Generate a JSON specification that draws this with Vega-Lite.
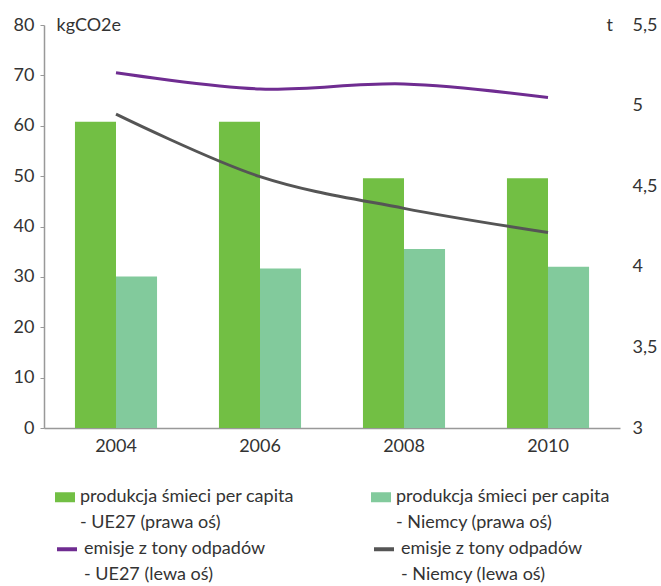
{
  "$schema": "https://vega.github.io/schema/vega-lite/v6.json",
  "width": 576,
  "height": 403,
  "autosize": "none",
  "padding": {"left": 44, "top": 25, "right": 41, "bottom": 158},
  "background": "white",
  "config": {
    "view": {"stroke": null},
    "font": "Lato",
    "axis": {"labelFont": "Lato", "titleFont": "Lato", "labelColor": "#333333", "titleColor": "#333333", "labelFontSize": 18, "titleFontSize": 18, "titleFontWeight": "normal", "grid": false},
    "legend": {"labelFont": "Lato", "labelFontSize": 18, "labelColor": "#333333"},
    "style": {"guide-label": {"lineHeight": 25.5}}
  },
  "data": {
    "values": [
      {"year": "2004", "kind": "bar", "s": "UE27", "label": "produkcja śmieci per capita|- UE27 (prawa oś)", "value": 4.90},
      {"year": "2006", "kind": "bar", "s": "UE27", "label": "produkcja śmieci per capita|- UE27 (prawa oś)", "value": 4.90},
      {"year": "2008", "kind": "bar", "s": "UE27", "label": "produkcja śmieci per capita|- UE27 (prawa oś)", "value": 4.55},
      {"year": "2010", "kind": "bar", "s": "UE27", "label": "produkcja śmieci per capita|- UE27 (prawa oś)", "value": 4.55},
      {"year": "2004", "kind": "bar", "s": "Niemcy", "label": "produkcja śmieci per capita|- Niemcy (prawa oś)", "value": 3.94},
      {"year": "2006", "kind": "bar", "s": "Niemcy", "label": "produkcja śmieci per capita|- Niemcy (prawa oś)", "value": 3.99},
      {"year": "2008", "kind": "bar", "s": "Niemcy", "label": "produkcja śmieci per capita|- Niemcy (prawa oś)", "value": 4.11},
      {"year": "2010", "kind": "bar", "s": "Niemcy", "label": "produkcja śmieci per capita|- Niemcy (prawa oś)", "value": 4.00},
      {"year": "2004", "kind": "line", "s": "UE27", "label": "emisje z tony odpadów|- UE27 (lewa oś)", "value": 70.5},
      {"year": "2006", "kind": "line", "s": "UE27", "label": "emisje z tony odpadów|- UE27 (lewa oś)", "value": 67.3},
      {"year": "2008", "kind": "line", "s": "UE27", "label": "emisje z tony odpadów|- UE27 (lewa oś)", "value": 68.3},
      {"year": "2010", "kind": "line", "s": "UE27", "label": "emisje z tony odpadów|- UE27 (lewa oś)", "value": 65.6},
      {"year": "2004", "kind": "line", "s": "Niemcy", "label": "emisje z tony odpadów|- Niemcy (lewa oś)", "value": 62.3},
      {"year": "2006", "kind": "line", "s": "Niemcy", "label": "emisje z tony odpadów|- Niemcy (lewa oś)", "value": 49.9},
      {"year": "2008", "kind": "line", "s": "Niemcy", "label": "emisje z tony odpadów|- Niemcy (lewa oś)", "value": 43.6},
      {"year": "2010", "kind": "line", "s": "Niemcy", "label": "emisje z tony odpadów|- Niemcy (lewa oś)", "value": 38.8}
    ]
  },
  "layer": [
    {
      "transform": [{"filter": "datum.kind === 'bar'"}],
      "mark": {"type": "bar"},
      "encoding": {
        "x": {
          "field": "year", "type": "nominal",
          "scale": {"paddingInner": 0.43, "paddingOuter": 0.215},
          "axis": {"title": null, "labelAngle": 0, "ticks": false, "labelPadding": 9, "domainColor": "#999999", "domainWidth": 1.5}
        },
        "xOffset": {"field": "s", "type": "nominal", "sort": ["UE27", "Niemcy"], "scale": {"paddingInner": 0, "paddingOuter": 0}},
        "y": {
          "field": "value", "type": "quantitative",
          "scale": {"domain": [3, 5.5], "zero": false, "nice": false},
          "axis": {"orient": "right", "values": [3, 3.5, 4, 4.5, 5, 5.5], "labelExpr": "replace(format(datum.value, '.1~f'), '.', ',')", "domain": false, "ticks": false, "labelPadding": 12, "title": "t", "titleAngle": 0, "titleAlign": "left", "titleBaseline": "middle", "titleX": -14, "titleY": 0}
        },
        "y2": {"datum": 3},
        "fill": {
          "field": "label", "type": "nominal",
          "scale": {"domain": ["produkcja śmieci per capita|- UE27 (prawa oś)", "produkcja śmieci per capita|- Niemcy (prawa oś)"], "range": ["#72BF44", "#82CA9C"]},
          "legend": {"orient": "none", "legendX": 11, "legendY": 462, "columns": 2, "columnPadding": 77, "title": null, "labelExpr": "split(datum.label, '|')", "labelBaseline": "middle", "labelOffset": 5, "labelLimit": 400, "symbolType": "M-1,-0.5H1V0.5H-1Z", "symbolSize": 400, "symbolStrokeWidth": 0}
        }
      }
    },
    {
      "transform": [{"filter": "datum.kind === 'line'"}],
      "mark": {"type": "line", "interpolate": "cardinal", "strokeWidth": 3},
      "encoding": {
        "x": {"field": "year", "type": "nominal"},
        "y": {
          "field": "value", "type": "quantitative",
          "scale": {"domain": [0, 80], "nice": false},
          "axis": {"orient": "left", "values": [0, 10, 20, 30, 40, 50, 60, 70, 80], "domainColor": "#999999", "domainWidth": 1.5, "tickColor": "#999999", "tickSize": 4, "labelPadding": 6, "title": "kgCO2e", "titleAngle": 0, "titleAlign": "left", "titleBaseline": "middle", "titleX": 12, "titleY": 0}
        },
        "stroke": {
          "field": "label", "type": "nominal",
          "scale": {"domain": ["emisje z tony odpadów|- UE27 (lewa oś)", "emisje z tony odpadów|- Niemcy (lewa oś)"], "range": ["#6F2C91", "#555555"]},
          "legend": {"orient": "none", "legendX": 11, "legendY": 512, "columns": 2, "columnPadding": 100, "title": null, "labelExpr": "split(datum.label, '|')", "labelBaseline": "middle", "labelOffset": 5, "labelLimit": 400, "symbolType": "M-1,0H1", "symbolSize": 400, "symbolStrokeWidth": 4}
        }
      }
    }
  ],
  "resolve": {"scale": {"y": "independent"}}
}
